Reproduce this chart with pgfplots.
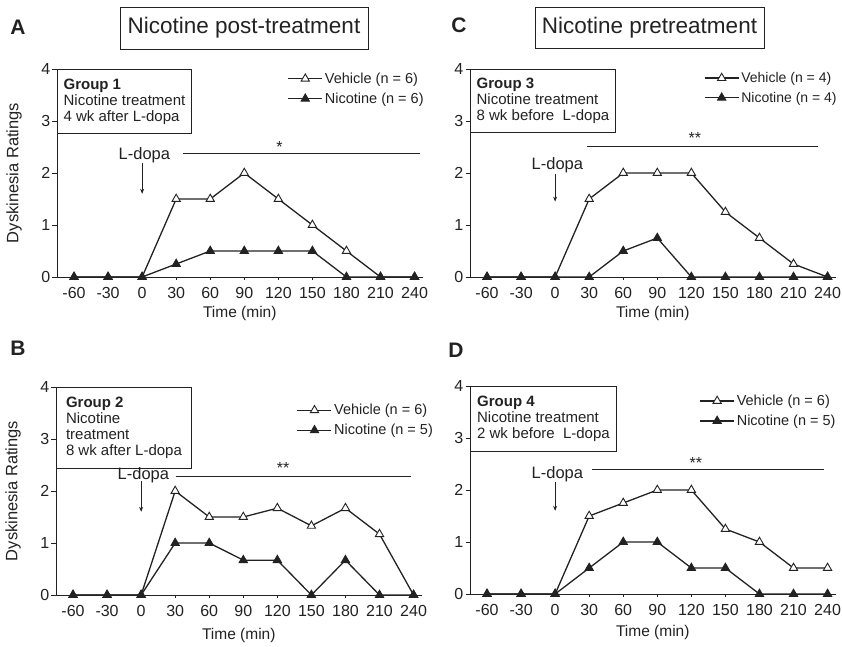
\documentclass[border=0pt]{standalone}
\usepackage{pgfplots}
\usepackage{pgfplotstable}
\pgfplotsset{compat=1.18}
\usepackage{fontspec}
\setmainfont{Liberation Sans}
\usetikzlibrary{arrows.meta}

\definecolor{ink}{HTML}{222222}

% time (min), vehicle rating, nicotine rating
\pgfplotstableread{
t   veh  nic
-60 0    0
-30 0    0
0   0    0
30  1.5  0.25
60  1.5  0.5
90  2    0.5
120 1.5  0.5
150 1    0.5
180 0.5  0
210 0    0
240 0    0
}\groupone
\pgfplotstableread{
t   veh  nic
-60 0    0
-30 0    0
0   0    0
30  2    1
60  1.5  1
90  1.5  0.67
120 1.67 0.67
150 1.33 0
180 1.67 0.67
210 1.17 0
240 0    0
}\grouptwo
\pgfplotstableread{
t   veh  nic
-60 0    0
-30 0    0
0   0    0
30  1.5  0
60  2    0.5
90  2    0.75
120 2    0
150 1.25 0
180 0.75 0
210 0.25 0
240 0    0
}\groupthree
\pgfplotstableread{
t   veh  nic
-60 0    0
-30 0    0
0   0    0
30  1.5  0.5
60  1.75 1
90  2    1
120 2    0.5
150 1.25 0.5
180 1    0
210 0.5  0
240 0.5  0
}\groupfour

\newcommand{\txt}[1]{\fontsize{#1}{#1}\selectfont}

\tikzset{
  groupbox/.style={draw=ink, line width=0.9pt, anchor=north west, align=left,
    font=\fontsize{15}{16}\selectfont, text=ink, inner xsep=5pt, inner ysep=3pt},
}

\pgfplotsset{
  panel/.style={
    scale only axis, width=365.5pt, height=208pt,
    xmin=-75, xmax=247, ymin=0, ymax=4,
    axis x line*=bottom, axis y line*=left,
    axis line style={-, draw=ink, line width=0.9pt},
    xtick={-60,-30,...,240}, ytick={0,1,2,3,4},
    xticklabels={-60,-30,0,30,60,90,120,150,180,210,240},
    yticklabels={0,1,2,3,4},
    tick align=outside,
    ytick style={draw=ink, line width=0.8pt},
    xtick style={draw=ink, line width=0.6pt},
    xtick style={/pgfplots/major tick length=2.5pt},
    ytick style={/pgfplots/major tick length=4.5pt},
    ticklabel style={font=\txt{16}, text=ink},
    xticklabel style={yshift=-3pt},
    yticklabel style={xshift=1pt},
    clip=false,
    legend cell align=left,
    legend style={draw=none, fill=none, font=\txt{14.5}, text=ink,
      anchor=north west, inner sep=0pt, row sep=4pt},
    legend image code/.code={%
      \draw[mark repeat=2,mark phase=2] plot coordinates {(0pt,0pt) (17pt,0pt) (34pt,0pt)};},
    xlabel={Time (min)},
    xlabel style={font=\txt{15.5}, text=ink, anchor=center},
    ylabel style={font=\txt{16.5}, text=ink, anchor=center, at={(axis description cs:-0.1176,0.5)}},
  },
  veh/.style={ink, line width=1.3pt, mark=triangle*, mark size=4.8pt,
    mark options={fill=white, solid, line width=0.9pt}},
  nic/.style={ink, line width=1.3pt, mark=triangle*, mark size=4.8pt,
    mark options={fill=ink, solid, line width=0.9pt}},
}

\begin{document}
\begin{tikzpicture}[x=1pt, y=1pt]
\useasboundingbox (0,0) rectangle (842,646);

% headings
\node[draw=ink, line width=0.9pt, minimum width=248pt, minimum height=42pt, font=\txt{22.5}, text=ink] at (244,618) {Nicotine post-treatment};
\node[draw=ink, line width=0.9pt, minimum width=229pt, minimum height=41pt, font=\txt{22.5}, text=ink] at (649.5,618.5) {Nicotine pretreatment};
\node[font=\bfseries\txt{21}, text=ink] at (18,619) {A};
\node[font=\bfseries\txt{21}, text=ink] at (459,621) {C};
\node[font=\bfseries\txt{21}, text=ink] at (18,298) {B};
\node[font=\bfseries\txt{21}, text=ink] at (456,296) {D};

% Group 1
\begin{axis}[panel, at={(57pt,369pt)}, anchor=south west,
  ylabel={Dyskinesia Ratings},
  xlabel style={at={(axis description cs:0.5,-0.175)}},
  legend style={at={(axis cs:128,3.97)}}]
  \addplot[veh] table[x=t, y=veh] {\groupone};
  \addlegendentry{Vehicle (n = 6)}
  \addplot[nic] table[x=t, y=nic] {\groupone};
  \addlegendentry{Nicotine (n = 6)}
  \node[groupbox, minimum width=134pt, minimum height=64pt] at (rel axis cs:0,1)
    {\textbf{Group 1}\\Nicotine treatment\\4 wk after L-dopa};
  \draw[ink, line width=0.8pt] (axis cs:36,2.37) -- (axis cs:245,2.37);
  \node[font=\txt{16}, text=ink] at (axis cs:121,2.5) {*};
  \node[font=\txt{16.5}, text=ink] at (axis cs:2,2.34) {L-dopa};
  \draw[ink, line width=0.9pt, -{Stealth[length=5pt,width=4pt]}] (axis cs:0,2.2) -- (axis cs:0,1.6);
\end{axis}

% Group 2
\begin{axis}[panel, at={(56pt,51pt)}, anchor=south west,
  ylabel={Dyskinesia Ratings},
  xlabel style={at={(axis description cs:0.5,-0.197)}},
  legend style={at={(axis cs:137,3.71)}}]
  \addplot[veh] table[x=t, y=veh] {\grouptwo};
  \addlegendentry{Vehicle (n = 6)}
  \addplot[nic] table[x=t, y=nic] {\grouptwo};
  \addlegendentry{Nicotine (n = 5)}
  \node[groupbox, minimum width=135pt, minimum height=81pt] at (rel axis cs:0,1)
    {\textbf{Group 2}\\Nicotine\\treatment\\8 wk after L-dopa};
  \draw[ink, line width=0.8pt] (axis cs:31,2.29) -- (axis cs:238,2.29);
  \node[font=\txt{16}, text=ink] at (axis cs:125,2.45) {**};
  \node[font=\txt{16.5}, text=ink] at (axis cs:2,2.3) {L-dopa};
  \draw[ink, line width=0.9pt, -{Stealth[length=5pt,width=4pt]}] (axis cs:0,2.2) -- (axis cs:0,1.6);
\end{axis}

% Group 3
\begin{axis}[panel, at={(470pt,369pt)}, anchor=south west,
  xlabel style={at={(axis description cs:0.5,-0.175)}},
  legend style={at={(axis cs:131,3.98)}, font=\txt{14}}]
  \addplot[veh] table[x=t, y=veh] {\groupthree};
  \addlegendentry{Vehicle (n = 4)}
  \addplot[nic] table[x=t, y=nic] {\groupthree};
  \addlegendentry{Nicotine (n = 4)}
  \node[groupbox, minimum width=145pt, minimum height=63pt] at (rel axis cs:0,1)
    {\textbf{Group 3}\\Nicotine treatment\\8 wk before\ \ L-dopa};
  \draw[ink, line width=0.8pt] (axis cs:28,2.52) -- (axis cs:232,2.52);
  \node[font=\txt{16}, text=ink] at (axis cs:123,2.68) {**};
  \node[font=\txt{16.5}, text=ink] at (axis cs:2,2.15) {L-dopa};
  \draw[ink, line width=0.9pt, -{Stealth[length=5pt,width=4pt]}] (axis cs:0,1.98) -- (axis cs:0,1.45);
\end{axis}

% Group 4
\begin{axis}[panel, at={(470pt,52pt)}, anchor=south west,
  xlabel style={at={(axis description cs:0.5,-0.185)}},
  legend style={at={(axis cs:127,3.87)}}]
  \addplot[veh] table[x=t, y=veh] {\groupfour};
  \addlegendentry{Vehicle (n = 6)}
  \addplot[nic] table[x=t, y=nic] {\groupfour};
  \addlegendentry{Nicotine (n = 5)}
  \node[groupbox, minimum width=146pt, minimum height=65pt] at (rel axis cs:0,1)
    {\textbf{Group 4}\\Nicotine treatment\\2 wk before\ \ L-dopa};
  \draw[ink, line width=0.8pt] (axis cs:32.5,2.39) -- (axis cs:237,2.39);
  \node[font=\txt{16}, text=ink] at (axis cs:124,2.52) {**};
  \node[font=\txt{16.5}, text=ink] at (axis cs:2,2.3) {L-dopa};
  \draw[ink, line width=0.9pt, -{Stealth[length=5pt,width=4pt]}] (axis cs:0,2.15) -- (axis cs:0,1.6);
\end{axis}
\end{tikzpicture}
\end{document}
